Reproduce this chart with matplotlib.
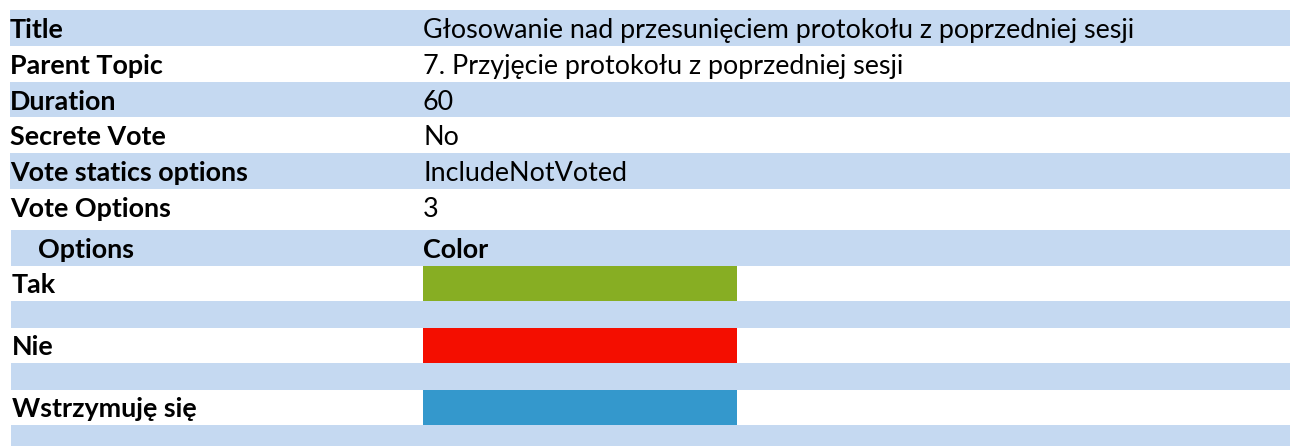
import matplotlib
matplotlib.use("Agg")
from matplotlib import pyplot as plt

# table content
field_names = ["Title", "Parent Topic", "Duration", "Secrete Vote",
               "Vote statics options", "Vote Options"]
field_values = ["Głosowanie nad przesunięciem protokołu z poprzedniej sesji",
                "7. Przyjęcie protokołu z poprzedniej sesji",
                "60", "No", "IncludeNotVoted", "3"]
option_names = ["Tak", "Nie", "Wstrzymuję się"]
option_colors = ["#87AE23", "#F40E00", "#3498CC"]

band = "#C5D9F1"
font = "Lato"
fs = 19.4

fig = plt.figure(figsize=(12.9, 4.46), dpi=100)
ax = fig.add_axes([0, 0, 1, 1])
ax.set_xlim(0, 1290)
ax.set_ylim(446, 0)
ax.axis("off")

# top key/value rows
row_h = 35.8
for i, (name, val) in enumerate(zip(field_names, field_values)):
    top = 10 + i * row_h
    if i % 2 == 0:
        ax.add_patch(plt.Rectangle((10, top), 1280, row_h, color=band, lw=0))
    ax.text(10, top + 28, name, fontsize=fs, fontweight="bold", family=font, va="baseline")
    ax.text(423, top + 28, val, fontsize=fs, family=font, va="baseline")

# options header
ax.add_patch(plt.Rectangle((11, 230), 1279, 36, color=band, lw=0))
ax.text(38, 258, "Options", fontsize=fs, fontweight="bold", family=font, va="baseline")
ax.text(423, 258, "Color", fontsize=fs, fontweight="bold", family=font, va="baseline")

# option rows with colour swatches
for i, (name, col) in enumerate(zip(option_names, option_colors)):
    top = 266 + 62 * i
    ax.add_patch(plt.Rectangle((11, top + 35), 1279, 27, color=band, lw=0))
    ax.barh(top + 17.5, 314, left=423, height=35.5, color=col, lw=0)
    ax.text(12, top + 27, name, fontsize=fs, fontweight="bold", family=font, va="baseline")

ax.set_xlim(0, 1290)
ax.set_ylim(446, 0)
fig.savefig("out.png", dpi=100)
